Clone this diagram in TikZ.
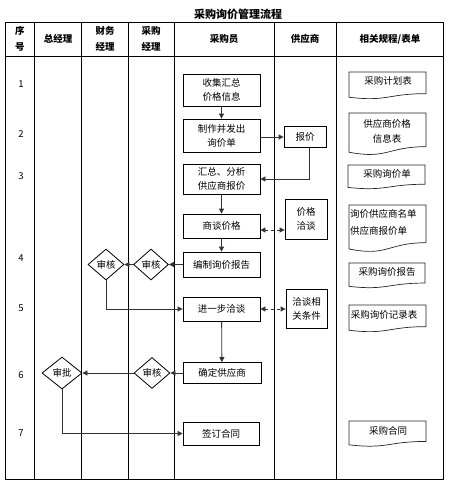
\documentclass[tikz,border=0pt]{standalone}
\usepackage{fontspec}
\setmainfont{Noto Sans CJK SC}
\usetikzlibrary{arrows.meta,shapes.geometric,calc}
\tikzset{
  txt/.style={font=\fontsize{9.5}{15}\selectfont, inner sep=0pt, align=center},
  hdr/.style={font=\bfseries\fontsize{9.5}{16}\selectfont, inner sep=0pt, align=center},
  proc/.style={draw, line width=0.8pt, align=center, inner sep=0pt, font=\fontsize{9.5}{14}\selectfont},
  dia/.style={draw, diamond, line width=0.8pt, inner sep=0pt, font=\fontsize{9.5}{12}\selectfont},
  conn/.style={line width=0.8pt, draw=black!80, -{Triangle[length=5pt,width=5pt]}},
  dconn/.style={line width=0.8pt, draw=black!80, dashed, {Triangle[length=5pt,width=5pt]}-{Triangle[length=5pt,width=5pt]}},
  gridline/.style={line width=0.9pt},
  docline/.style={line width=0.7pt, draw=black!85},
}
\newcommand\docshape[4]{%
  \draw[docline] (#1,#2) -- (#3,#2) -- (#3,{#2+0.802*(#4-#2)})
    .. controls ({(#1+#3)/2},{#2+0.802*(#4-#2)}) and ({(#1+#3)/2},{#2+1.107*(#4-#2)}) ..
    (#1,{#2+0.934*(#4-#2)}) -- cycle;}
\begin{document}
\begin{tikzpicture}[x=1pt,y=-1pt]
\useasboundingbox (0,0) rectangle (449,485);
% title
\node[font=\bfseries\fontsize{11}{13}\selectfont, inner sep=0pt] (title) at (238,14) {采购询价管理流程};
% table
\draw[gridline] (5,22) rectangle (443,479);
\draw[gridline] (5,56) -- (443,56);
\foreach \x in {34,81,128,174,274,336} \draw[gridline] (\x,22) -- (\x,479);
% headers
\node[hdr] (h0) at (20,39) {序\\号};
\node[hdr] (h1) at (58,39) {总经理};
\node[hdr] (h2) at (105,39) {财务\\经理};
\node[hdr] (h3) at (151,39) {采购\\经理};
\node[hdr] (h4) at (224,39) {采购员};
\node[hdr] (h5) at (305,39) {供应商};
\node[hdr] (h6) at (390,39) {相关规程/表单};
% row numbers
\node[txt] (r1) at (21,84) {1};
\node[txt] (r2) at (21,134) {2};
\node[txt] (r3) at (21,176) {3};
\node[txt] (r4) at (21,258) {4};
\node[txt] (r5) at (21,308) {5};
\node[txt] (r6) at (21,375) {6};
\node[txt] (r7) at (21,433) {7};
% process boxes
\node[proc, minimum width=77pt, minimum height=32pt] (n1) at (221.5,90) {收集汇总\\价格信息};
\node[proc, minimum width=77pt, minimum height=33pt] (n2) at (221.5,135.5) {制作并发出\\询价单};
\node[proc, minimum width=42pt, minimum height=21pt] (quote) at (305,137) {报价};
\node[proc, minimum width=77pt, minimum height=30pt] (n3) at (221.5,179) {汇总、分析\\供应商报价};
\node[proc, minimum width=77pt, minimum height=24pt] (n4) at (221.5,226) {商谈价格};
\node[proc, minimum width=42pt, minimum height=40pt] (neg) at (306,219) {价格\\洽谈};
\node[proc, minimum width=77pt, minimum height=25pt] (n5) at (221.5,264.5) {编制询价报告};
\node[proc, minimum width=77pt, minimum height=24pt] (n6) at (221.5,309) {进一步洽谈};
\node[proc, minimum width=41pt, minimum height=39pt] (cond) at (306.5,308.5) {洽谈相\\关条件};
\node[proc, minimum width=78pt, minimum height=21pt] (n7) at (222,373) {确定供应商};
\node[proc, minimum width=76pt, minimum height=23pt] (n8) at (221,433.5) {签订合同};
% diamonds
\node[dia, minimum width=36pt, minimum height=31pt] (d1) at (106,264.5) {审核};
\node[dia, minimum width=35pt, minimum height=31pt] (d2) at (151,264.5) {审核};
\node[dia, minimum width=40pt, minimum height=32pt] (d3) at (62,373) {审批};
\node[dia, minimum width=36pt, minimum height=31pt] (d4) at (152,373) {审核};
% connectors
\draw[conn] (n1) -- (n2);
\draw[conn] (n2.east |- quote.west) -- (quote.west);
\draw[conn] ([xshift=4pt]quote.south) |- (n3.east);
\draw[conn] (n3) -- (n4);
\draw[dconn] ([yshift=-4pt]n4.east) -- ([yshift=-4pt]n4.east -| neg.west);
\draw[conn] (n4) -- (n5);
\draw[conn] (n5.west) -- (d2.east);
\draw[conn] (d2.west) -- (d1.east);
\draw[conn] (d1.south) |- (n6.west);
\draw[dconn] (n6.east) -- (n6.east -| cond.west);
\draw[conn] (n6) -- (n7);
\draw[conn] (n7.west) -- (d4.east);
\draw[conn] (d4.west) -- (d3.east);
\draw[conn] (d3.south) |- (n8.west);
% documents
\docshape{349}{72}{426}{99}
\node[txt] (f1) at (388,81) {采购计划表};
\docshape{349}{113}{426}{155}
\node[txt] (f2) at (387,131) {供应商价格\\信息表};
\docshape{348}{165}{425}{189}
\node[txt] (f3) at (387,174) {采购询价单};
\docshape{349}{205}{426}{252}
\node[txt, align=left, anchor=west, font=\fontsize{9.5}{17}\selectfont] (f4) at (350,222.5) {询价供应商名单\\供应商报价单};
\docshape{349}{263}{425}{288}
\node[txt] (f5) at (387,272) {采购询价报告};
\docshape{349}{305}{426}{332}
\node[txt] (f6) at (384,315) {采购询价记录表};
\docshape{349}{421}{426}{446.5}
\node[txt] (f7) at (388,431) {采购合同};
\end{tikzpicture}
\end{document}
